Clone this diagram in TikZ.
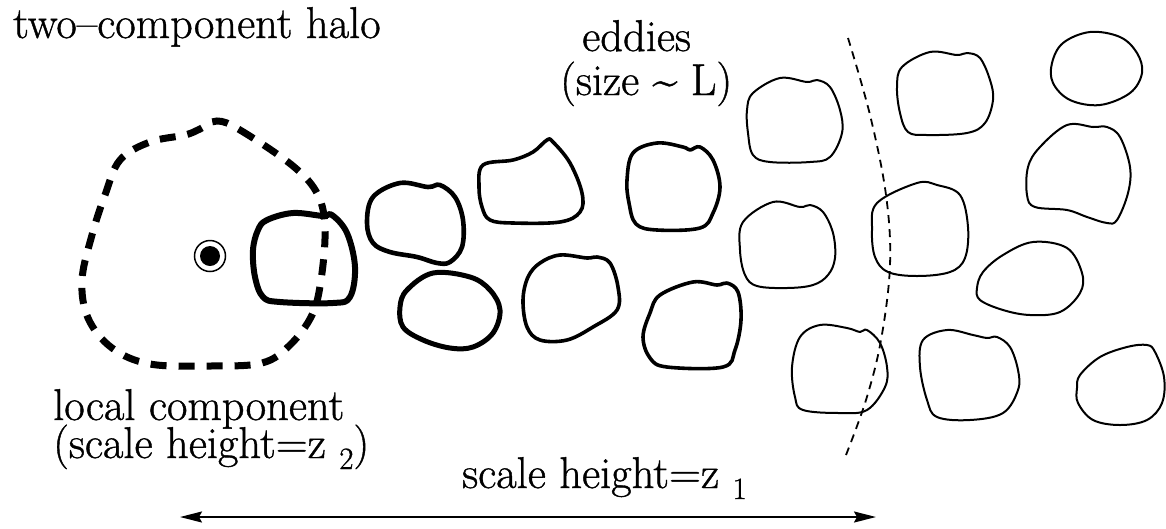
\documentclass[tikz,border=0pt]{standalone}
\usepackage{fontspec}
\setmainfont[Ligatures=TeX, UprightFeatures={FakeBold=0.9}]{Latin Modern Roman}
\usetikzlibrary{arrows.meta}
% lowered, smaller index after a space, as in z_1 and z_2
\newcommand\lowidx[1]{\raisebox{-11pt}{\fontsize{31}{31}\selectfont #1}}
\begin{document}
\begin{tikzpicture}[x=1pt,y=-1pt,
  txt/.style={font=\fontsize{44.5}{44.5}\selectfont, inner sep=0pt, anchor=base west},
  eddy/.style={draw=black, line join=round, smooth cycle, tension=0.6},
  faint eddy/.style={eddy, line width=2pt},
  mid eddy/.style={eddy, line width=3.6pt},
  bold eddy/.style={eddy, line width=5pt},
  halo edge/.style={draw=black, line width=7pt, dash pattern=on 16pt off 12pt},
  front/.style={draw=black, line width=1.8pt, dash pattern=on 8pt off 6pt},
  span/.style={draw=black, line width=2pt, {Stealth[length=22pt,width=11pt,inset=3pt]}-{Stealth[length=22pt,width=11pt,inset=3pt]}}]
\useasboundingbox (0,0) rectangle (1166,528);

% labels
\node[txt] (title) at (13,38) {two--component halo};
\node[txt] (eddies1) at (582,51) {eddies};
\node[txt] (eddies2) at (560,95) {(size \textasciitilde\ L)};
\node[txt] (local1) at (53,420) {local component};
\node[txt] (local2) at (53,458) {(scale height=z \lowidx{2})};
\node[txt] (global) at (462,488) {scale height=z \lowidx{1}};

% dashed outline of the local component
\draw[halo edge] plot[smooth cycle, tension=0.6] coordinates {
  (217,121) (240,130) (293,166) (318,195) (325,230) (321,280) (312,315)
  (290,345) (262,363) (210,366) (150,364) (112,348) (88,318) (82,280)
  (92,235) (105,195) (120,160) (150,142) (185,135) (200,129)};

% the observer: ring with a filled centre
\draw[line width=1.5pt] (210,256) circle [radius=15.5pt];
\fill (210,256) circle [radius=10pt];

% eddies, drawn thinner with distance
\draw[eddy, line width=6pt] plot coordinates {
  (267,220) (293,213) (323,216) (332,215) (347,233) (355,267) (350,297)
  (333,303) (280,302) (263,297) (255,277) (253,250) (258,230)};
\draw[eddy, line width=4.6pt] plot coordinates {
  (373,197) (400,183) (428,187) (440,185) (455,197) (463,220) (462,247)
  (450,262) (437,263) (417,257) (390,252) (373,243) (367,223)};
\draw[bold eddy] plot coordinates {
  (407,290) (433,273) (470,277) (490,290) (500,310) (493,333) (473,347)
  (450,348) (423,340) (403,327) (400,307)};
\draw[mid eddy] plot coordinates {
  (483,165) (513,160) (533,152) (547,140) (553,142) (570,163) (582,193)
  (580,212) (560,222) (513,223) (490,220) (482,207) (479,187)};
\draw[mid eddy] plot coordinates {
  (540,263) (560,255) (587,258) (597,257) (610,263) (618,287) (617,310)
  (593,327) (567,340) (540,340) (527,327) (523,300) (528,277)};
\draw[mid eddy] plot coordinates {
  (633,153) (657,143) (683,147) (690,150) (700,147) (713,160) (720,187)
  (713,213) (700,228) (657,230) (636,224) (629,203) (627,180)};
\draw[mid eddy] plot coordinates {
  (660,295) (693,282) (717,285) (727,283) (738,292) (741,320) (735,350)
  (723,367) (667,367) (650,358) (643,337) (650,313)};
\draw[faint eddy] plot coordinates {
  (753,93) (780,78) (807,82) (817,80) (830,87) (840,110) (842,133)
  (830,157) (810,162) (770,162) (753,155) (748,133) (747,110)};
\draw[faint eddy] plot coordinates {
  (743,222) (773,202) (800,207) (810,205) (823,212) (833,233) (835,258)
  (828,275) (813,285) (787,288) (757,286) (745,275) (740,250)};
\draw[faint eddy] plot coordinates {
  (800,337) (820,325) (847,328) (860,332) (867,330) (880,343) (887,367)
  (885,387) (867,410) (840,413) (803,410) (795,397) (792,367)};
\draw[faint eddy] plot coordinates {
  (902,67) (930,52) (957,55) (967,53) (980,58) (990,80) (993,100)
  (985,123) (967,133) (927,135) (908,132) (900,113) (897,87)};
\draw[faint eddy] plot coordinates {
  (877,203) (917,183) (937,185) (960,195) (968,227) (965,258) (950,272)
  (917,276) (888,272) (875,257) (872,230)};
\draw[faint eddy] plot coordinates {
  (923,340) (947,330) (973,335) (987,338) (997,337) (1010,347) (1018,370)
  (1018,390) (1003,413) (970,420) (937,417) (927,400) (920,367)};
\draw[faint eddy] plot coordinates {
  (1063,43) (1090,32) (1120,37) (1137,53) (1142,73) (1130,93) (1100,105)
  (1070,100) (1053,83) (1052,63)};
\draw[faint eddy] plot coordinates {
  (1040,147) (1067,125) (1093,127) (1107,127) (1120,137) (1130,167)
  (1128,193) (1117,220) (1107,223) (1087,217) (1067,210) (1035,207)
  (1027,195) (1028,167)};
\draw[faint eddy] plot coordinates {
  (983,272) (1003,255) (1033,242) (1067,248) (1082,273) (1080,293)
  (1060,312) (1030,315) (1003,310) (980,300) (977,288)};
\draw[faint eddy] plot coordinates {
  (1080,375) (1100,357) (1127,347) (1147,345) (1155,352) (1164,377)
  (1162,403) (1147,420) (1120,425) (1093,420) (1078,403) (1077,388)};

% dashed boundary of the local component's reach
\draw[front] plot[smooth, tension=0.6] coordinates {
  (848,38) (870,115) (886,195) (890,265) (881,340) (866,400) (846,455)};

% extent of the global scale height
\coordinate (spanL) at (180,517);
\coordinate (spanR) at (876,517);
\draw[span] (spanL) -- (spanR);
\end{tikzpicture}
\end{document}
